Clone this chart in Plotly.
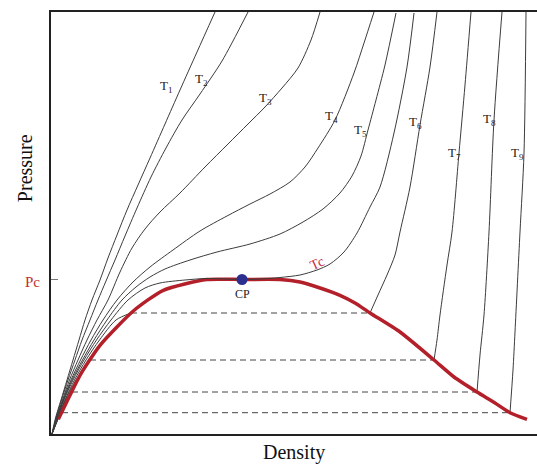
import plotly.graph_objects as go

# Reduced units: density 0..486, pressure 0..422
PC = 154.5            # critical pressure
DC = 191              # critical density

# Supercritical isotherms
t1_d = [1, 4.5, 10, 16, 22, 28, 34, 41, 49, 57, 66, 76, 87, 99, 114, 129, 146, 164]
t1_p = [0, 16, 34, 54, 74, 94, 114, 134, 154, 176, 199, 224, 249, 276, 310, 344, 382, 422]

t2_d = [1, 5, 10.5, 17, 24, 31, 39, 47, 55, 64, 74, 86, 100, 115, 131, 149, 171, 197]
t2_p = [0, 16, 34, 54, 74, 94, 114, 134, 153, 174, 198, 226, 257, 286, 314, 340, 373, 422]

t3_d = [1, 5.5, 11.5, 18.5, 27, 36, 46, 57, 69, 81, 94, 109, 129, 154, 177, 197, 214, 231, 247, 260, 269]
t3_p = [0, 16, 34, 54, 74, 94, 114, 134, 162, 186, 205, 222, 241, 267, 290, 310, 327, 346, 366, 394, 422]

t4_d = [1, 5.5, 12, 20, 29.5, 40, 52, 66, 82, 99, 122, 149, 176, 199, 219, 239, 254, 267, 284, 303, 313, 323]
t4_p = [0, 16, 34, 54, 74, 94, 114, 134, 152, 167, 184, 203, 218, 230, 240, 252, 267, 286, 314, 361, 391, 422]

t5_d = [1, 6, 12.5, 21, 31.5, 43, 56, 71, 85, 99, 114, 139, 166, 199, 229, 252, 272, 289, 301, 310, 317, 325, 334, 345]
t5_p = [0, 16, 34, 54, 74, 94, 114, 134, 147, 157, 165, 174, 182, 190, 200, 212, 225, 241, 258, 278, 304, 334, 369, 421]

# Critical isotherm
tc_d = [1, 6.5, 13, 22, 33, 45.5, 60, 77, 94, 109, 134, 155, 175, DC, 210, 229, 249, 266, 279, 293, 306, 319, 329, 343, 356, 363]
tc_p = [0, 16, 34, 54, 74, 94, 114, 134, 146, 151, 154, 155.5, 155, PC, 155, 156.5, 159, 164, 170, 182, 201, 227, 247, 301, 367, 421]

# Subcritical isotherms: vapour branch / liquid branch
t6_vap_d = [1, 7, 14, 23.5, 35, 48.5, 65, 80]
t6_vap_p = [0, 16, 34, 54, 74, 94, 114, 121]
t6_liq_d = [319, 327, 336, 344, 349, 359, 369, 379, 386]
t6_liq_p = [121, 139, 159, 179, 202, 247, 309, 367, 422]

t7_vap_d = [1, 7, 14.5, 25, 39]
t7_vap_p = [0, 16, 34, 54, 74]
t7_liq_d = [383, 386, 389, 396, 401, 408, 414, 420]
t7_liq_p = [74, 94, 119, 169, 202, 281, 349, 422]

t8_vap_d = [1, 7.5, 15, 21]
t8_vap_p = [0, 16, 34, 42]
t8_liq_d = [426, 429, 433, 438, 443, 451]
t8_liq_p = [42, 79, 119, 202, 314, 422]

t9_vap_d = [1, 7.5, 11]
t9_vap_p = [0, 16, 21.3]
t9_liq_d = [459, 462, 464, 469, 473, 475]
t9_liq_p = [21.3, 64, 102, 202, 281, 422]

# Saturation dome
dome_d = [7.3, 15.7, 29, 49, 82.3, 112.3, 155.7, DC, 229, 249, 269, 289, 304, 319, 349, 383, 403, 426, 444, 459, 476]
dome_p = [14.7, 32, 58.7, 88.7, 123, 143.7, 154.5, PC, 154.5, 152, 146, 138.7, 131, 121, 102, 74, 57, 42, 31, 21.3, 14.7]

# Tie lines (saturation pressure, vapour density, liquid density)
tie_p = [121, 74, 42, 21.3]
tie_vap = [80, 39, 21, 11]
tie_liq = [319, 383, 426, 459]

# Isotherm labels
label_text = ["T<sub>1</sub>", "T<sub>2</sub>", "T<sub>3</sub>", "T<sub>4</sub>", "T<sub>5</sub>",
              "T<sub>6</sub>", "T<sub>7</sub>", "T<sub>8</sub>", "T<sub>9</sub>"]
label_d = [115, 150, 214, 280, 309, 364, 403, 438, 466]
label_p = [348, 355, 336, 318, 304, 312, 281, 315, 281]

SERIF = "Liberation Serif, Times New Roman, serif"
ISO_COLOR = "#3c3c3c"
RED = "#b3202a"

fig = go.Figure()

# dashed tie lines
for p, dv, dl in zip(tie_p, tie_vap, tie_liq):
    fig.add_trace(go.Scatter(x=[dv, dl], y=[p, p], mode="lines",
                             line=dict(color="#444444", width=1, dash="6px,4px"),
                             hoverinfo="skip"))

iso = [(t1_d, t1_p), (t2_d, t2_p), (t3_d, t3_p), (t4_d, t4_p), (t5_d, t5_p),
       (t6_vap_d, t6_vap_p), (t6_liq_d, t6_liq_p),
       (t7_vap_d, t7_vap_p), (t7_liq_d, t7_liq_p),
       (t8_vap_d, t8_vap_p), (t8_liq_d, t8_liq_p),
       (t9_vap_d, t9_vap_p), (t9_liq_d, t9_liq_p)]
for d, p in iso:
    fig.add_trace(go.Scatter(x=d, y=p, mode="lines",
                             line=dict(color=ISO_COLOR, width=1, shape="spline", smoothing=0.8),
                             hoverinfo="skip"))

# saturation dome
fig.add_trace(go.Scatter(x=dome_d, y=dome_p, mode="lines",
                         line=dict(color=RED, width=3.5, shape="spline", smoothing=0.6),
                         hoverinfo="skip"))

# critical isotherm
fig.add_trace(go.Scatter(x=tc_d, y=tc_p, mode="lines",
                         line=dict(color=ISO_COLOR, width=1, shape="spline", smoothing=0.8),
                         hoverinfo="skip"))

# critical point
fig.add_trace(go.Scatter(x=[DC], y=[PC], mode="markers",
                         marker=dict(color="#2b2f8f", size=11),
                         hoverinfo="skip"))

annotations = []
for txt, d, p in zip(label_text, label_d, label_p):
    annotations.append(dict(x=d, y=p, xref="x", yref="y", text=txt, showarrow=False,
                            font=dict(family=SERIF, size=13, color="#2a2218")))

annotations += [
    dict(x=DC, y=PC, xref="x", yref="y", text="CP", showarrow=False, yshift=-14,
         font=dict(family=SERIF, size=12, color="#222222")),
    dict(x=266, y=171, xref="x", yref="y", text="Tc", showarrow=False, textangle=-25,
         font=dict(family=SERIF, size=14, color="#c8283c")),
    dict(x=0, y=PC, xref="paper", yref="y", text="Pc", showarrow=False,
         xanchor="right", xshift=-9, yshift=-2,
         font=dict(family=SERIF, size=15, color="#c0302e")),
    dict(x=0.5, y=-0.045, xref="paper", yref="paper", text="Density", showarrow=False,
         yanchor="middle", font=dict(family=SERIF, size=20, color="#111111")),
    dict(x=-0.0535, y=0.63, xref="paper", yref="paper", text="Pressure", showarrow=False,
         textangle=-90, xanchor="center", yanchor="middle",
         font=dict(family=SERIF, size=20, color="#111111")),
]

fig.update_layout(
    width=537, height=464,
    margin=dict(l=51, r=0, t=12, b=30),
    paper_bgcolor="white", plot_bgcolor="white",
    showlegend=False,
    annotations=annotations,
    xaxis=dict(range=[0, 486], showgrid=False, zeroline=False, showticklabels=False,
               showline=True, linecolor="#222222", linewidth=1.5, mirror=True, ticks=""),
    yaxis=dict(range=[0, 422], showgrid=False, zeroline=False, showticklabels=False,
               showline=True, linecolor="#222222", linewidth=1.5, mirror=False,
               tickvals=[PC], ticks="inside", ticklen=7, tickcolor="#777777", tickwidth=1),
)

fig.write_html("out.html")
